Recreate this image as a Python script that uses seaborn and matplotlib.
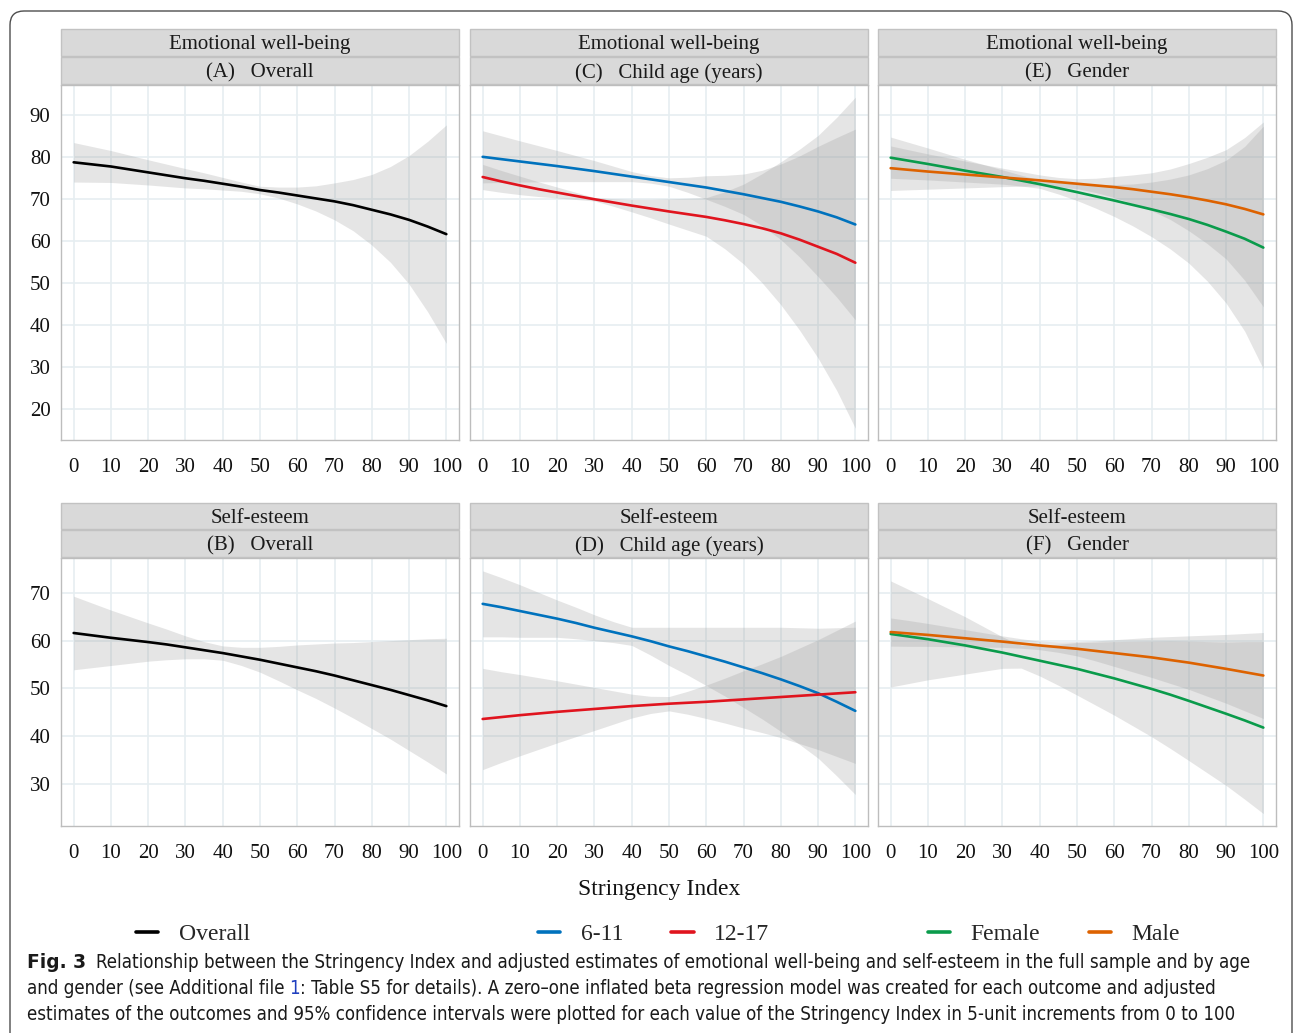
import matplotlib
matplotlib.use("Agg")
import matplotlib.pyplot as plt
import seaborn as sns
import numpy as np
import pandas as pd
from matplotlib.patches import Rectangle, FancyBboxPatch
from matplotlib.lines import Line2D
from matplotlib.transforms import IdentityTransform
from matplotlib import font_manager as fm
from matplotlib.font_manager import FontProperties
import matplotlib.patheffects as pe

# ---------------- data ----------------
stringency = [0, 5, 10, 15, 20, 25, 30, 35, 40, 45, 50, 55, 60, 65, 70, 75, 80, 85, 90, 95, 100]

# Emotional well-being
ewb_overall = [78.7, 78.2, 77.7, 77.0, 76.3, 75.6, 74.9, 74.3, 73.6, 72.9, 72.1,
               71.5, 70.8, 70.1, 69.4, 68.5, 67.4, 66.3, 65.0, 63.4, 61.6]
ewb_overall_ci = [4.7, 4.25, 3.8, 3.4, 3.0, 2.65, 2.3, 1.9, 1.5, 1.1, 0.9,
                  1.3, 2.0, 3.0, 4.4, 6.1, 8.4, 11.4, 15.3, 20.3, 26.0]
ewb_age_6_11 = [80.0, 79.45, 78.9, 78.35, 77.8, 77.2, 76.6, 75.95, 75.3, 74.65, 74.0,
                73.35, 72.7, 71.9, 71.1, 70.2, 69.3, 68.2, 67.0, 65.6, 63.9]
ewb_age_6_11_ci = [6.2, 5.55, 4.9, 4.3, 3.7, 3.1, 2.5, 1.85, 1.2, 0.9, 1.0,
                   1.8, 2.8, 3.7, 4.8, 6.6, 9.0, 12.0, 15.5, 19.0, 22.7]
ewb_age_12_17 = [75.2, 74.15, 73.2, 72.3, 71.5, 70.7, 69.9, 69.15, 68.4, 67.7, 67.0,
                 66.35, 65.7, 64.9, 64.0, 63.0, 61.8, 60.3, 58.6, 56.9, 54.8]
ewb_age_12_17_ci = [3.0, 2.6, 2.2, 1.75, 1.3, 0.85, 0.4, 0.9, 1.5, 2.2, 3.0,
                    3.8, 4.6, 6.8, 9.5, 13.0, 17.0, 21.5, 26.5, 32.5, 39.4]
ewb_female = [79.8, 79.05, 78.3, 77.5, 76.7, 75.95, 75.2, 74.35, 73.5, 72.55, 71.6,
              70.6, 69.6, 68.55, 67.5, 66.4, 65.2, 63.8, 62.2, 60.5, 58.4]
ewb_female_ci = [4.9, 4.35, 3.8, 3.25, 2.7, 2.2, 1.7, 1.3, 1.0, 1.4, 2.0,
                 2.8, 3.8, 5.0, 6.5, 8.3, 10.5, 13.4, 17.0, 22.0, 28.9]
ewb_male = [77.3, 76.9, 76.5, 76.15, 75.8, 75.45, 75.1, 74.75, 74.4, 74.0, 73.6,
            73.2, 72.8, 72.3, 71.7, 71.1, 70.4, 69.6, 68.7, 67.6, 66.3]
ewb_male_ci = [5.3, 4.75, 4.2, 3.7, 3.2, 2.7, 2.2, 1.75, 1.3, 1.1, 1.2,
               1.7, 2.5, 3.4, 4.5, 6.0, 8.0, 10.3, 13.0, 17.0, 22.0]

# Self-esteem
se_overall = [61.6, 61.1, 60.6, 60.15, 59.7, 59.2, 58.6, 58.0, 57.4, 56.7, 56.0,
              55.2, 54.4, 53.6, 52.7, 51.7, 50.7, 49.7, 48.6, 47.5, 46.3]
se_overall_ci = [7.7, 6.75, 5.8, 4.9, 4.0, 3.2, 2.4, 1.8, 1.5, 1.9, 2.6,
                 3.6, 4.7, 5.7, 6.8, 7.9, 9.1, 10.3, 11.6, 12.9, 14.2]
se_age_6_11 = [67.7, 67.0, 66.2, 65.4, 64.6, 63.7, 62.7, 61.8, 60.9, 59.9, 58.8,
               57.8, 56.7, 55.6, 54.4, 53.2, 51.9, 50.5, 49.0, 47.2, 45.3]
se_age_6_11_ci = [6.9, 6.2, 5.5, 4.7, 3.9, 3.3, 2.7, 2.2, 1.9, 2.9, 4.0,
                  5.0, 6.1, 7.2, 8.4, 9.6, 10.9, 12.2, 13.6, 15.5, 17.5]
se_age_12_17 = [43.6, 44.0, 44.4, 44.75, 45.1, 45.4, 45.7, 46.0, 46.3, 46.55, 46.8,
                47.0, 47.2, 47.45, 47.7, 47.95, 48.2, 48.45, 48.7, 48.95, 49.2]
se_age_12_17_ci = [10.6, 9.5, 8.5, 7.5, 6.5, 5.5, 4.5, 3.5, 2.5, 1.8, 1.5,
                   2.4, 3.5, 4.7, 6.0, 7.2, 8.5, 10.0, 11.5, 13.2, 14.9]
se_female = [61.4, 60.85, 60.3, 59.65, 59.0, 58.25, 57.5, 56.65, 55.8, 54.95, 54.1,
             53.1, 52.1, 51.0, 49.9, 48.7, 47.4, 46.05, 44.7, 43.3, 41.8]
se_female_ci = [11.1, 9.8, 8.5, 7.25, 6.0, 4.65, 3.3, 2.4, 3.2, 4.3, 5.5,
                6.6, 7.7, 8.85, 10.0, 11.25, 12.5, 13.75, 15.0, 16.5, 18.0]
se_male = [61.8, 61.5, 61.2, 60.85, 60.5, 60.15, 59.8, 59.4, 59.0, 58.65, 58.3,
           57.85, 57.4, 56.95, 56.5, 55.95, 55.4, 54.75, 54.1, 53.4, 52.7]
se_male_ci = [2.95, 2.7, 2.4, 2.1, 1.8, 1.5, 1.2, 1.0, 0.9, 1.1, 1.5,
              2.1, 2.8, 3.5, 4.2, 4.9, 5.6, 6.4, 7.2, 8.1, 9.0]

outcomes = ["Emotional well-being", "Self-esteem"]
panel_titles = [["(A)   Overall", "(C)   Child age (years)", "(E)   Gender"],
                ["(B)   Overall", "(D)   Child age (years)", "(F)   Gender"]]
x_ticks = [0, 10, 20, 30, 40, 50, 60, 70, 80, 90, 100]
y_ticks_top = [20, 30, 40, 50, 60, 70, 80, 90]
y_ticks_bottom = [30, 40, 50, 60, 70]

groups = ["Overall", "6-11", "12-17", "Female", "Male"]
palette = {"Overall": "#000000", "6-11": "#0072BD", "12-17": "#E0141E",
           "Female": "#0A9B4B", "Male": "#DD6200"}

panel_series = [
    [[("Overall", ewb_overall, ewb_overall_ci)],
     [("6-11", ewb_age_6_11, ewb_age_6_11_ci), ("12-17", ewb_age_12_17, ewb_age_12_17_ci)],
     [("Female", ewb_female, ewb_female_ci), ("Male", ewb_male, ewb_male_ci)]],
    [[("Overall", se_overall, se_overall_ci)],
     [("6-11", se_age_6_11, se_age_6_11_ci), ("12-17", se_age_12_17, se_age_12_17_ci)],
     [("Female", se_female, se_female_ci), ("Male", se_male, se_male_ci)]],
]

# ---------------- style ----------------
sns.set_theme(style="white")
plt.rcParams["font.family"] = ["Liberation Serif", "DejaVu Serif"]

W, H = 1293, 1033
fig = plt.figure(figsize=(W / 100, H / 100), dpi=100)
fig.patch.set_facecolor("white")


def fx(px):
    return px / W


def fy(py):
    return 1 - py / H


col_left = [61, 470, 878]
col_w = 398
row_top = [85, 558]
row_bot = [440, 826]
strip_rows = [[(29, 56), (57, 84)], [(503, 529), (530, 557)]]
ylims = [(12.6, 97.1), (21.2, 77.3)]

for r in range(2):
    for c in range(3):
        ax = fig.add_axes([fx(col_left[c]), fy(row_bot[r]), fx(col_w),
                           (row_bot[r] - row_top[r]) / H])
        rows = []
        for name, vals, ci in panel_series[r][c]:
            lo = [v - e for v, e in zip(vals, ci)]
            hi = [v + e for v, e in zip(vals, ci)]
            ax.fill_between(stringency, lo, hi, color="#999999", alpha=0.25,
                            linewidth=0, zorder=2)
            for xv, yv in zip(stringency, vals):
                rows.append({"Stringency": xv, "Estimate": yv, "group": name})
        df = pd.DataFrame(rows)
        sns.lineplot(data=df, x="Stringency", y="Estimate", hue="group",
                     palette=palette, ax=ax, legend=False, linewidth=1.9,
                     zorder=3, sort=True)
        ax.set_xlim(-3.4, 103.4)
        ax.set_ylim(*ylims[r])
        ax.set_xticks(x_ticks)
        ax.set_xticklabels([str(t) for t in x_ticks])
        ax.set_yticks(y_ticks_top if r == 0 else y_ticks_bottom)
        ax.set_yticklabels([str(t) for t in (y_ticks_top if r == 0 else y_ticks_bottom)])
        ax.set_xlabel("")
        ax.set_ylabel("")
        ax.grid(True, color="#E6EEF1", linewidth=1.2, zorder=0)
        ax.set_axisbelow(True)
        for sp in ax.spines.values():
            sp.set_color("#BDBDBD")
            sp.set_linewidth(1.0)
        ax.tick_params(axis="both", direction="out", length=5, width=1.0,
                       color="#333333", labelsize=15, labelcolor="#111111")
        ax.tick_params(axis="x", pad=7.8)
        ax.tick_params(axis="y", pad=2.5)
        if c != 0:
            ax.tick_params(axis="y", labelleft=False, length=0)

        # strips
        for k, (t0, t1) in enumerate(strip_rows[r]):
            rect = Rectangle((fx(col_left[c]), fy(t1)), fx(col_w), (t1 - t0) / H,
                             transform=fig.transFigure, facecolor="#D9D9D9",
                             edgecolor="#C2C2C2", linewidth=1.0)
            fig.add_artist(rect)
            label = outcomes[r] if k == 0 else panel_titles[r][c]
            fig.text(fx(col_left[c] + col_w / 2), fy((t0 + t1) / 2 + 2.5), label,
                     ha="center", va="center", fontsize=15, color="#1A1A1A")

# axis title
fig.text(fx(659), fy(889), "Stringency Index", ha="center", va="center",
         fontsize=17, color="#111111")

# legends
def handle(g):
    return Line2D([0], [0], color=palette[g], lw=2.6)


legend_groups = [(["Overall"], 136), (["6-11", "12-17"], 538), (["Female", "Male"], 928)]
for gl, xpx in legend_groups:
    fig.legend(handles=[handle(g) for g in gl], labels=gl, loc="center left",
               bbox_to_anchor=(fx(xpx), fy(934)), ncol=len(gl), frameon=False,
               handlelength=0.95, handletextpad=0.85, columnspacing=2.05,
               borderpad=0, borderaxespad=0, prop={"size": 17})

# outer rounded border
border = FancyBboxPatch((10, -40), 1282, 1062,
                        boxstyle="round,pad=0,rounding_size=14",
                        transform=IdentityTransform(), facecolor="none",
                        edgecolor="#4D4D4D", linewidth=1.0)
fig.add_artist(border)

# ---------------- caption ----------------
def wnum(w):
    if isinstance(w, (int, float)):
        return w
    return {"normal": 400, "regular": 400, "book": 400, "medium": 500,
            "light": 300, "bold": 700, "semibold": 600}.get(str(w).lower(), 400)


ttf = fm.fontManager.ttflist
reg_file = None
bold_file = None
for f in ttf:
    nm = f.name.lower()
    narrow = ("condensed" in nm or "narrow" in nm or
              str(f.stretch).lower() in ("condensed", "semi-condensed"))
    if narrow and "serif" not in nm and "mono" not in nm and f.style == "normal":
        w = wnum(f.weight)
        if 350 <= w <= 450 and reg_file is None:
            reg_file = f
if reg_file is not None:
    for f in ttf:
        if f.name == reg_file.name and f.style == "normal" and wnum(f.weight) >= 600:
            bold_file = f
            break

fake_bold = False
if reg_file is not None:
    cap_reg = lambda s: FontProperties(fname=reg_file.fname, size=s)
    if bold_file is not None:
        cap_bold = lambda s: FontProperties(fname=bold_file.fname, size=s)
    else:
        cap_bold = lambda s: FontProperties(fname=reg_file.fname, size=s)
        fake_bold = True
else:
    cap_reg = lambda s: FontProperties(family=["Noto Sans", "DejaVu Sans"], weight="normal", size=s)
    cap_bold = lambda s: FontProperties(family=["Noto Sans", "DejaVu Sans"], weight="bold", size=s)

renderer = fig.canvas.get_renderer()

ink = "#1A1A1A"
cap_lines = [
    [("Fig. 3", True, ink),
     ("Relationship between the Stringency Index and adjusted estimates of emotional well-being and self-esteem in the full sample and by age", False, ink)],
    [("and gender (see Additional file", False, ink), ("1", False, "#1F3FBF"),
     (": Table S5 for details). A zero\u2013one inflated beta regression model was created for each outcome and adjusted", False, ink)],
    [("estimates of the outcomes and 95% confidence intervals were plotted for each value of the Stringency Index in 5-unit increments from 0 to 100", False, ink)],
]
gaps = [[0.55], [0.25, 0.0], []]


def fp(bold, size):
    return cap_bold(size) if bold else cap_reg(size)


def measure(segs, gp, size):
    tot = 0
    for i, (s, b, col) in enumerate(segs):
        t = fig.text(0, 0, s, fontproperties=fp(b, size))
        tot += t.get_window_extent(renderer).width
        t.remove()
        if i < len(gp):
            tot += gp[i] * size * 100 / 72
    return tot


base = measure(cap_lines[0], gaps[0], 10)
cap_size = 10 * 1228 / base
cap_y = [962, 988, 1014]
for segs, gp, ypx in zip(cap_lines, gaps, cap_y):
    x = 27
    for i, (s, b, col) in enumerate(segs):
        t = fig.text(fx(x), fy(ypx), s, fontproperties=fp(b, cap_size), color=col,
                     ha="left", va="center")
        if b and fake_bold:
            t.set_path_effects([pe.withStroke(linewidth=0.9, foreground=col)])
        x += t.get_window_extent(renderer).width
        if i < len(gp):
            x += gp[i] * cap_size * 100 / 72

fig.savefig("out.png", dpi=100, facecolor="white")
